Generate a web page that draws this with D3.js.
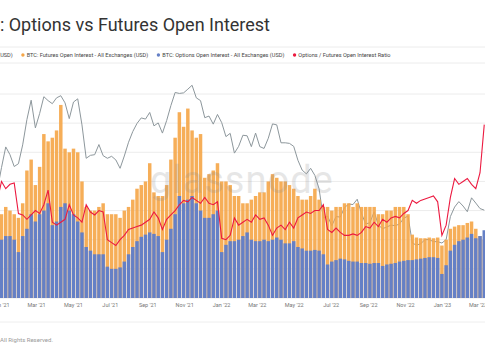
<!DOCTYPE html>
<html><head><meta charset="utf-8">
<script src="https://cdn.jsdelivr.net/npm/d3@7"></script>
<style>body{margin:0;background:#fff;} svg{display:block;font-family:Roboto, "Noto Sans", sans-serif;}</style>
</head><body><svg id="c" width="485" height="360"></svg>
<script>
// weekly observations, first week = 2020-12-27
const firstWeek = "2020-12-27";
const btcPrice = [26300,32000,38300,35800,32300,33100,39000,48600,57500,45200,
51200,59300,57300,55800,58700,59800,56200,49000,56600,58200,
46400,34700,35600,35800,39100,35500,34700,35300,34200,31800,
35400,39900,43800,47000,49300,48800,51700,46000,47200,43200,
48200,54900,61500,61000,61300,63300,65500,58700,57300,49400,
50100,46700,50800,47300,41900,43100,36300,38500,42400,42200,
38400,43200,38400,37800,41300,46800,46400,39700,39700,39500,
38500,34100,31300,30300,31800,29900,26600,20600,21000,19300,
20900,20800,22600,23300,23200,24300,21500,19600,19800,21800,
19400,18800,19100,19400,19300,19600,20600,21000,16600,16300,
16500,17100,17100,16800,16800,16600,17100,20900,22700,23800,
22900,21800,24600,23500,22400,22100];
// billions USD
const futuresOI = [11,11.5,12.5,12,11.5,11,13,17.5,19,15.5,
18,22.5,21.5,22,23,26.5,20.5,20,20.5,20,
16,12.5,12,12,12.5,13,11.5,11.5,11.5,11,
12,12.5,13.5,15,15.5,16,18.5,14.5,14,14,
15.5,19,22,25.5,23.5,26,23,22,22.5,16.5,
17,17.5,18.5,16,16,15.5,14,14,13,13,
13.5,14,14.5,14.5,16,17,16.5,16,16,15.5,
15,14,13.5,13.5,14,15,13.5,12.5,12.5,12,
12.5,12.5,13,13,12.5,13,12.5,12.5,12.5,12.5,
11.5,11.5,12,12,12.5,12.5,12.5,11.5,8.7,8.3,
8.2,8.2,8.3,8.2,8.3,7.2,8,9.5,9.8,10,
10,10.3,10.5,9.5,8.5,8];
const optionsOI = [6,8,8.5,8.5,8,6.3,8.5,9.5,11.5,10.5,
11.5,12,13,10,10.5,12.5,13,12,11.5,10.5,
9,7,6.5,6,6,6,4.3,4,4,4.2,
5,6,7,7.8,8.4,8.7,9,8.8,8.5,6.3,
8,9.5,11.5,14,13,13.5,14,13,12,11,
11,11.5,12,6.3,7.3,7.8,7.8,8,8.5,9,
8,7.8,7.8,8,7.8,8,8.3,8,7.5,7.5,
7.8,7,6.8,6.5,6.5,6.6,6.5,6,4.6,5,
5.2,5.4,5.3,5.1,5,5,4.8,4.8,4.7,4.8,
4.8,4.4,4.6,4.7,4.8,5,5.1,5.2,5.2,5.3,
5.4,5.5,5.6,5.6,5.5,3.3,4.5,6.5,7.3,7.8,
8,8.3,8.8,8.2,8.5,9.3];
const oiRatio = [.67,.80,.75,.78,.79,.58,.57,.54,.57,.60,
.58,.64,.74,.52,.50,.52,.54,.64,.57,.55,
.52,.64,.59,.57,.60,.59,.40,.38,.36,.40,
.43,.47,.48,.49,.50,.52,.54,.59,.55,.47,
.54,.57,.60,.64,.67,.66,.69,.67,.65,.69,
.65,.64,.66,.41,.40,.43,.55,.50,.52,.54,
.52,.57,.54,.55,.50,.43,.48,.50,.47,.52,
.48,.55,.57,.59,.58,.60,.60,.64,.47,.45,
.48,.45,.43,.43,.44,.43,.45,.49,.48,.52,
.49,.54,.52,.55,.56,.55,.58,.60,.67,.65,
.67,.68,.69,.70,.66,.43,.50,.69,.82,.78,
.80,.82,.78,.75,.86,1.19];
const legendLabels = ["BTC: Price (USD)","BTC: Futures Open Interest - All Exchanges (USD)","BTC: Options Open Interest - All Exchanges (USD)","Options / Futures Open Interest Ratio"];
const titleText = "Bitcoin: Options vs Futures Open Interest";
const footerText = "© 2023 Glassnode. All Rights Reserved.";
const oiGrid = [0,4,8,12,16,20,24,28];

(function () {
const C = {price:"#8d979c", fut:"#f6a647", opt:"#6580c6", ratio:"#ec1a40"};
const svg = d3.select("#c");
const t0 = d3.utcParse("%Y-%m-%d")(firstWeek);
const dates = btcPrice.map((_, i) => d3.utcDay.offset(t0, i * 7));

const plotTop = 94, plotBottom = 298;
const x = d3.scaleUtc().domain([new Date(Date.UTC(2021,0,1)), new Date(Date.UTC(2023,2,1))]).range([0.3, 477.6]);
const yOI = d3.scaleLinear().domain([0, 28]).range([plotBottom, plotTop]);
const yPrice = d3.scaleLog().domain([10290, 60700]).range([plotBottom, plotTop]);
const yRatio = d3.scaleLinear().domain([0, 1.4]).range([plotBottom, plotTop]);

// title
svg.append("text").attr("x", 270).attr("y", 31).attr("text-anchor", "end")
  .attr("font-size", 18).attr("fill", "#333").text(titleText);

// legend box lines
svg.append("line").attr("x1",0).attr("x2",485).attr("y1",47).attr("y2",47).attr("stroke","#ececec");
svg.append("line").attr("x1",0).attr("x2",485).attr("y1",63).attr("y2",63).attr("stroke","#ececec");
const legColors = [C.price, C.fut, C.opt, C.ratio];
const lg = svg.append("g").attr("font-size", 5.6).attr("fill", "#444");
let endPrev = 12.7;
legendLabels.forEach((lab, i) => {
  const t = lg.append("text").attr("y", 57).text(lab);
  const w = t.node().getComputedTextLength();
  const tx = i === 0 ? endPrev - w : endPrev + 14;
  t.attr("x", tx);
  lg.append("circle").attr("cx", tx - 3.8).attr("cy", 55).attr("r", 1.7).attr("fill", legColors[i]);
  endPrev = tx + w;
});

// grid
svg.append("g").selectAll("line").data(oiGrid).join("line")
  .attr("x1", 0).attr("x2", 485).attr("y1", d => yOI(d)).attr("y2", d => yOI(d))
  .attr("stroke", "#ececec").attr("stroke-width", 1);

// price line (under bars)
const lineP = d3.line().x((d, i) => x(dates[i])).y(d => yPrice(d));
svg.append("path").datum(btcPrice).attr("d", lineP).attr("fill", "none")
  .attr("stroke", C.price).attr("stroke-width", 1);

const step = x(dates[1]) - x(dates[0]);
const bw = step * 0.82;
svg.append("g").attr("opacity", 0.9).selectAll("rect").data(futuresOI).join("rect")
  .attr("x", (d, i) => x(dates[i]) - bw / 2).attr("width", bw)
  .attr("y", d => yOI(d)).attr("height", d => plotBottom - yOI(d)).attr("fill", C.fut);
svg.append("g").selectAll("rect").data(optionsOI).join("rect")
  .attr("x", (d, i) => x(dates[i]) - bw / 2).attr("width", bw)
  .attr("y", d => yOI(d)).attr("height", d => plotBottom - yOI(d)).attr("fill", C.opt);

const lineR = d3.line().x((d, i) => x(dates[i])).y(d => yRatio(d));
svg.append("path").datum(oiRatio).attr("d", lineR).attr("fill", "none")
  .attr("stroke", C.ratio).attr("stroke-width", 1.1);

// x axis
const xa = svg.append("g").attr("transform", `translate(0,${plotBottom})`)
  .call(d3.axisBottom(x).ticks(d3.utcMonth.every(2)).tickFormat(d3.utcFormat("%b '%y")).tickSize(0).tickPadding(5.5));
xa.select(".domain").remove();
xa.selectAll("text").attr("font-size", 5.5).attr("fill", "#777").attr("font-family", "Roboto, sans-serif");

// watermark
svg.append("text").attr("x", 150).attr("y", 193).attr("font-size", 38).attr("letter-spacing", 1)
  .attr("fill", "#888").attr("opacity", 0.2).text("glassnode");

// footer
svg.append("line").attr("x1",0).attr("x2",485).attr("y1",322).attr("y2",322).attr("stroke","#eeeeee");
svg.append("text").attr("x", 53).attr("y", 342).attr("text-anchor", "end").attr("font-size", 6)
  .attr("fill", "#999").text(footerText);
})();
</script></body></html>
